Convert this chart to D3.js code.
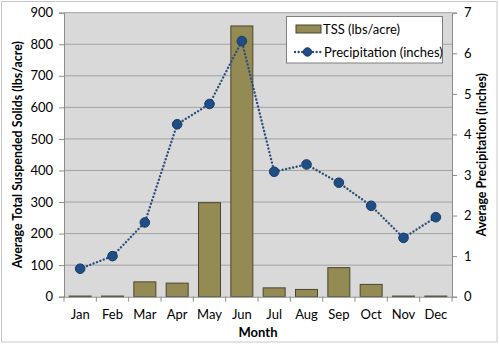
<!DOCTYPE html>
<html><head><meta charset="utf-8">
<script src="https://cdn.jsdelivr.net/npm/d3@7"></script>
<style>body{margin:0;background:#fff}svg{display:block}text{font-family:Lato,"Open Sans",sans-serif}</style>
</head><body><svg id="c" width="500" height="345"></svg>
<script>
const months = ["Jan","Feb","Mar","Apr","May","Jun","Jul","Aug","Sep","Oct","Nov","Dec"];
const tss = [2,2,47,43,298,858,28,23,92,39,2,2];
const precip = [0.69,1.00,1.83,4.25,4.75,6.30,3.08,3.26,2.81,2.24,1.45,1.96];
const leftTicks = [0,100,200,300,400,500,600,700,800,900];
const rightTicks = [0,1,2,3,4,5,6,7];

const svg = d3.select("#c");
const m = {l:64, r:452, t:12.7, b:296.7};
svg.append("rect").attr("x",1.5).attr("y",1.5).attr("width",495.5).attr("height",340.5)
  .attr("fill","#fff").attr("stroke","#c8c8c8");
svg.append("rect").attr("x",m.l).attr("y",m.t).attr("width",m.r-m.l).attr("height",m.b-m.t).attr("fill","#d9d9d9");

const x = d3.scaleBand().domain(months).range([m.l,m.r]).paddingInner(0.32).paddingOuter(0.16);
const xb = d3.scaleBand().domain(months).range([m.l,m.r]);
const yL = d3.scaleLinear().domain([0,900]).range([m.b,m.t]);
const yR = d3.scaleLinear().domain([0,7]).range([m.b,m.t]);

// gridlines
svg.append("g").selectAll("line").data(leftTicks.slice(1)).join("line")
  .attr("x1",m.l).attr("x2",m.r).attr("y1",d=>yL(d)).attr("y2",d=>yL(d))
  .attr("stroke","#a2a2a2").attr("stroke-width",1);

// bars
svg.append("g").selectAll("rect").data(months).join("rect")
  .attr("x",d=>x(d)).attr("width",x.bandwidth())
  .attr("y",(d,i)=>yL(tss[i])).attr("height",(d,i)=>m.b-yL(tss[i]))
  .attr("fill","#948a54").attr("stroke","#4a4530").attr("stroke-width",1);

// axes
const axL = svg.append("g").attr("transform",`translate(${m.l},0)`)
  .call(d3.axisLeft(yL).tickValues(leftTicks).tickSize(5).tickPadding(6));
const axR = svg.append("g").attr("transform",`translate(${m.r},0)`)
  .call(d3.axisRight(yR).tickValues(rightTicks).tickFormat(d3.format("d")).tickSize(5).tickPadding(7));
const axB = svg.append("g").attr("transform",`translate(0,${m.b})`)
  .call(d3.axisBottom(xb).tickSize(0).tickPadding(13));
svg.append("g").selectAll("line").data(months.concat(["end"])).join("line")
  .attr("x1",(d,i)=>m.l+i*xb.bandwidth()).attr("x2",(d,i)=>m.l+i*xb.bandwidth())
  .attr("y1",m.b).attr("y2",m.b+5).attr("stroke","#8c8c8c");
[axL,axR,axB].forEach(a=>{
  a.selectAll("path,line").attr("stroke","#8c8c8c");
  a.selectAll("text").attr("font-size","13px").attr("fill","#000");
});
axB.select("path").attr("d",`M${m.l},0.5H${m.r}`);

// precipitation line
const dots = {stroke:"#2c4d7a", w:2.4, dash:"0.01,3.6"};
const line = d3.line().x((d,i)=>xb(months[i])+xb.bandwidth()/2).y(d=>yR(d));
svg.append("path").datum(precip).attr("d",line).attr("fill","none")
  .attr("stroke",dots.stroke).attr("stroke-width",dots.w).attr("stroke-dasharray",dots.dash).attr("stroke-linecap","round");
svg.append("g").selectAll("circle").data(precip).join("circle")
  .attr("cx",(d,i)=>xb(months[i])+xb.bandwidth()/2).attr("cy",d=>yR(d)).attr("r",4.8)
  .attr("fill","#1f4e86").attr("stroke","#173a63").attr("stroke-width",1);

// titles
svg.append("text").attr("transform",`translate(22,${(m.t+m.b)/2}) rotate(-90)`)
  .attr("text-anchor","middle").attr("font-size","12.4px").attr("font-weight","bold")
  .text("Average Total Suspended Solids (lbs/acre)");
svg.append("text").attr("transform",`translate(486,${(m.t+m.b)/2}) rotate(-90)`)
  .attr("text-anchor","middle").attr("font-size","12.4px").attr("font-weight","bold")
  .text("Average Precipitation (inches)");
svg.append("text").attr("x",(m.l+m.r)/2).attr("y",337).attr("text-anchor","middle")
  .attr("font-size","13px").attr("font-weight","bold").text("Month");

// legend
const lg = svg.append("g");
lg.append("rect").attr("x",286.5).attr("y",16.5).attr("width",156).attr("height",46.5)
  .attr("fill","#fff").attr("stroke","#7f7f7f");
lg.append("rect").attr("x",296).attr("y",25).attr("width",25).attr("height",8)
  .attr("fill","#948a54").attr("stroke","#4a4530");
lg.append("text").attr("x",323).attr("y",34).attr("font-size","13px").text("TSS (lbs/acre)");
lg.append("line").attr("x1",295).attr("x2",320.5).attr("y1",52).attr("y2",52)
  .attr("stroke",dots.stroke).attr("stroke-width",dots.w).attr("stroke-dasharray",dots.dash).attr("stroke-linecap","round");
lg.append("circle").attr("cx",307.5).attr("cy",52).attr("r",4.2).attr("fill","#1f4e86").attr("stroke","#173a63");
lg.append("text").attr("x",324).attr("y",57).attr("font-size","13px").text("Precipitation (inches)");
</script></body></html>
